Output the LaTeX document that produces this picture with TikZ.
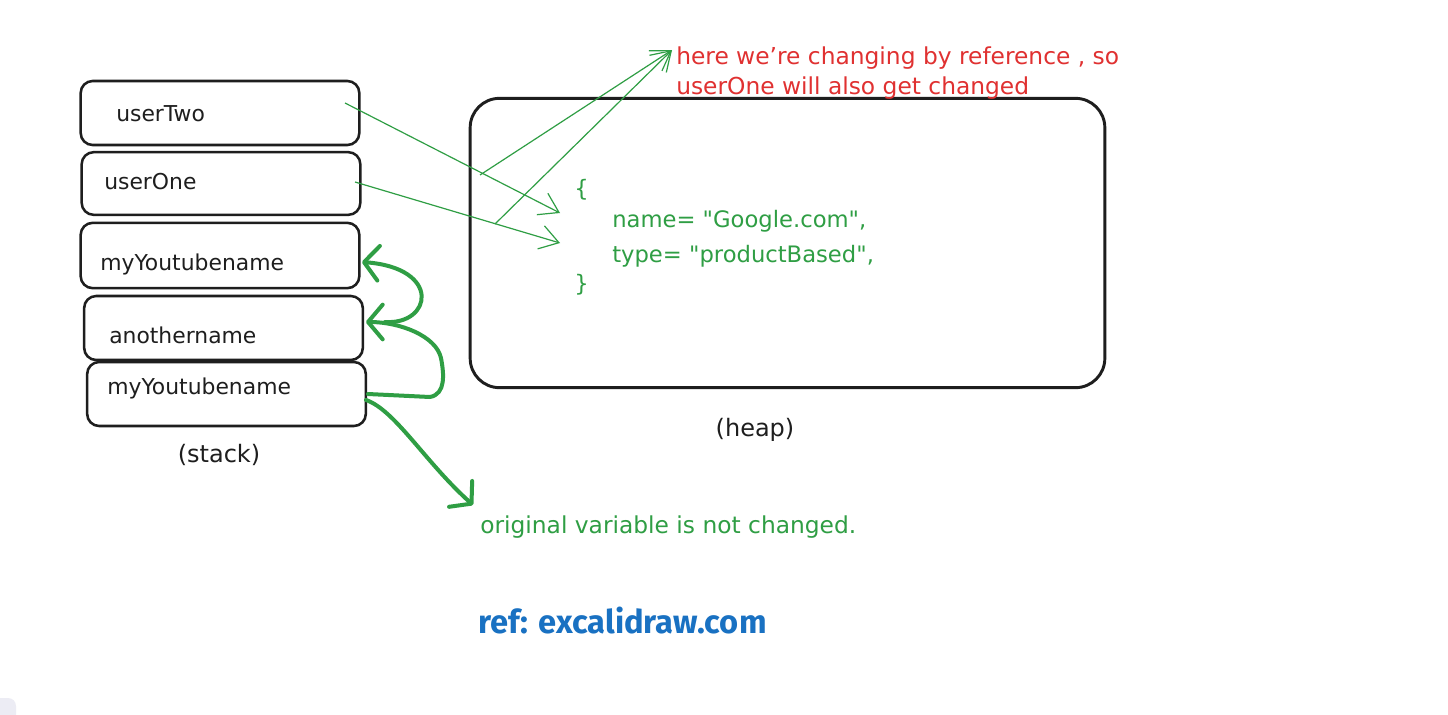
\documentclass[tikz,border=0pt]{standalone}
\usepackage{fontspec}
\setmainfont{DejaVu Sans}
\newfontfamily\reffont{Fira Sans}
\usetikzlibrary{arrows.meta}
\definecolor{exgreen}{HTML}{2F9E44}
\definecolor{exred}{HTML}{E03131}
\definecolor{exblue}{HTML}{1971C2}
\definecolor{exblack}{HTML}{1E1E1E}
\definecolor{exlav}{HTML}{ECECF4}
\newcommand{\dq}{\XeTeXglyph\XeTeXcharglyph"22\relax}
\tikzset{
  stackbox/.style={draw=exblack, line width=1.9pt, rounded corners=9pt, inner sep=0pt, outer sep=0pt, minimum width=209pt, minimum height=48pt},
  heapbox/.style={draw=exblack, line width=2.2pt, rounded corners=22pt, inner sep=0pt, outer sep=0pt, minimum width=476pt, minimum height=217pt},
  lbl/.style={anchor=west, inner sep=0pt, text=exblack, font=\fontsize{16.4}{19}\selectfont},
  caption/.style={anchor=center, inner sep=0pt, text=exblack, font=\fontsize{18}{21}\selectfont},
  heaptxt/.style={anchor=west, inner sep=0pt, text=exgreen, font=\fontsize{17}{21}\selectfont},
  thinarrow/.style={draw=exgreen, line width=0.9pt, -{Straight Barb[length=14pt,width=18pt]}},
  thickarrow/.style={draw=exgreen, line width=3pt, line cap=round, line join=round, -{Straight Barb[length=11pt,width=26pt,round]}},
}
\begin{document}
\begin{tikzpicture}[x=0.75pt,y=-0.75pt]
\useasboundingbox (0,0) rectangle (1448,714);
\fill[white] (0,0) rectangle (1448,714);
\begin{scope}
\clip (0,0) rectangle (1448,714);
\fill[exlav, rounded corners=6pt] (-10,698) rectangle (16,724);
\end{scope}

% stack boxes
\node[stackbox, minimum height=48pt] (s1) at (220,113) {};
\node[stackbox, minimum height=47pt] (s2) at (221,183.5) {};
\node[stackbox, minimum height=49pt] (s3) at (220,255.5) {};
\node[stackbox, minimum height=48pt] (s4) at (223.5,328) {};
\node[stackbox, minimum height=48pt] (s5) at (226.5,394) {};

\node[lbl] (t1) at (116,114) {userTwo};
\node[lbl] (t2) at (104,182) {userOne};
\node[lbl] (t3) at (100,264) {myYoutubename};
\node[lbl] (t4) at (109,335) {anothername};
\node[lbl] (t5) at (107,388) {myYoutubename};
\node[caption] (stack) at (219,455) {(stack)};

% heap
\node[heapbox] (heap) at (787.5,243) {};
\node[caption] (heaplbl) at (755,430) {(heap)};
\node[heaptxt] (ob) at (574,190) {\{};
\node[heaptxt] (nm) at (612,221) {name= \dq Google.com\dq,};
\node[heaptxt] (ty) at (612,256) {type= \dq productBased\dq,};
\node[heaptxt] (cb) at (574,285) {\}};

% annotations
\node[anchor=west, inner sep=0pt, align=left, text=exred, font=\fontsize{17.5}{22.5}\selectfont] (note) at (676,73) {here we’re changing by reference , so\\userOne will also get changed};
\node[anchor=west, inner sep=0pt, text=exgreen, font=\fontsize{17.5}{21}\selectfont] (orig) at (480,527) {original variable is not changed.};
\node[anchor=west, inner sep=0pt, text=exblue, font=\reffont\bfseries\fontsize{24.5}{28}\selectfont] (ref) at (478,621) {ref: excalidraw.com};

% connector points
\coordinate (u2s) at (345,103);
\coordinate (u1s) at (355,182);
\coordinate (h1) at (560,213);
\coordinate (h2) at (560,243);
\coordinate (m1) at (480,175);
\coordinate (m2) at (495,224);
\coordinate (tip) at (672,50);
\coordinate (c1s) at (385,322);
\coordinate (c1e) at (362,262);
\coordinate (c2s) at (368,394);
\coordinate (c2k) at (430,397);
\coordinate (c2e) at (366,322);
\coordinate (c3s) at (366,400);
\coordinate (c3e) at (473,505);

% thin arrows
\draw[thinarrow] (u2s) -- (h1);
\draw[thinarrow] (u1s) -- (h2);
\draw[thinarrow] (m1) -- (tip);
\draw[thinarrow] (m2) -- (tip);

% thick arrows
\draw[thickarrow] (c1s) .. controls (432,325) and (442,268) .. (c1e);
\draw[thickarrow] (c2s) -- (c2k) .. controls (446,394) and (444,374) .. (441,358) .. controls (436,336) and (400,322) .. (c2e);
\draw[thickarrow] (c3s) .. controls (395,410) and (425,462) .. (c3e);
\end{tikzpicture}
\end{document}
